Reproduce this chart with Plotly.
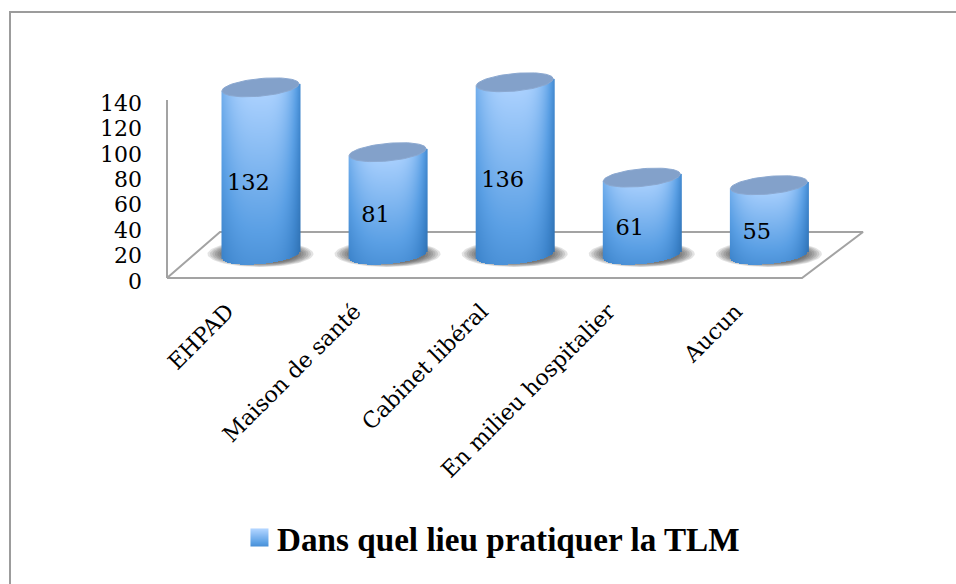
import numpy as np
import plotly.graph_objects as go

# values
categories = ["EHPAD", "Maison de santé", "Cabinet libéral", "En milieu hospitalier", "Aucun"]
counts = [132, 81, 136, 61, 55]
y_ticks = [0, 20, 40, 60, 80, 100, 120, 140]
legend_title = "Dans quel lieu pratiquer la TLM"

W, H = 956, 584
SERIF = "Liberation Serif"
TICK_SERIF = "DejaVu Serif"
GREY = "#a3a3a3"

# page scale: one category step and one count in pixels, and where (0, 0) sits
PX_X, PX_Y = 127.1, 1.271
X0, Y0 = 260.5, 278


def xd(px):
    return (px - X0) / PX_X


def yd(px):
    return (Y0 - px) / PX_Y


# 3D look: cylinders stand behind the front edge of the floor
BASE = 18
RX, RY, TILT = 38.5 / PX_X, 8.8 / PX_Y, 3.5 / PX_Y
SCALE = [[0, "#1d5a96"], [0.35, "#3f86cd"], [0.55, "#5a9fe4"], [1, "#aed3ff"]]

fig = go.Figure()


def ellipse(cx, cy, rx, ry, tilt):
    t = np.linspace(0, 2 * np.pi, 80)
    return cx + rx * np.cos(t), cy + ry * np.sin(t) + tilt * np.cos(t)


def add_poly(xs, ys, fill=None, line=None, width=2, top=False):
    # heatmaps always sit under scatter on one subplot, so the cylinders get their own overlay
    fig.add_trace(go.Scatter(
        x=xs, y=ys, mode="lines", hoverinfo="skip", showlegend=False,
        xaxis="x2" if top else "x", yaxis="y2" if top else "y",
        fill="toself" if fill else None, fillcolor=fill,
        line=dict(color=line or "rgba(0,0,0,0)", width=width if line else 0),
    ))


# floor and back wall line
add_poly([xd(167), xd(802), xd(863), xd(220), xd(167)],
         [0, 0, yd(232), yd(232), 0], line=GREY)
add_poly([xd(167), xd(167)], [0, 140], line=GREY)

for i, v in enumerate(counts):
    # soft shadow on the floor
    for k in np.linspace(1, 0.72, 7):
        sx, sy = ellipse(i, yd(254), 53 / PX_X * k, 13 / PX_Y * k, 0)
        add_poly(sx, sy, fill="rgba(40,40,40,0.13)")

    # body, shaded pixel by pixel
    xs = np.arange(-RX, RX + 1 / PX_X, 1 / PX_X)
    ys = np.arange(BASE - RY - TILT, BASE + v + TILT, 1 / PX_Y)
    u = (xs / RX)[None, :]
    yy = ys[:, None]
    low = BASE - RY * np.sqrt(np.clip(1 - u ** 2, 0, 1)) + TILT * u
    t = np.clip((yy - BASE + RY) / (v + RY), 0, 1)
    edge = 1 - np.where(u > 0, 0.58, 0.3) * np.abs(u) ** 3
    z = (0.45 + 0.55 * t) * edge
    z = np.where((yy < low) | (yy > BASE + v + TILT * u), np.nan, z)
    fig.add_trace(go.Heatmap(x=i + xs, y=ys, z=z, zmin=0, zmax=1, colorscale=SCALE,
                             showscale=False, hoverinfo="skip", xaxis="x2", yaxis="y2"))

    # lid
    tx, ty = ellipse(i, BASE + v, RX, RY, TILT)
    add_poly(tx, ty, fill="#83a1ca", line="#8ba8d0", width=1, top=True)

# value labels
fig.add_trace(go.Scatter(
    x=[i - 0.095 for i in range(len(counts))],
    y=[BASE + v / 2 - 10.3 for v in counts],
    text=[str(v) for v in counts], mode="text", hoverinfo="skip", showlegend=False,
    xaxis="x2", yaxis="y2",
    textfont=dict(family=TICK_SERIF, size=22.5, color="#000000"),
))

# legend swatch
sw_y = np.arange(yd(546), yd(529) + 1 / PX_Y, 1 / PX_Y)
sw_z = np.linspace(0.42, 1, len(sw_y))[:, None] * np.ones((1, 17))
fig.add_trace(go.Heatmap(
    x=np.linspace(xd(251), xd(268), 17), y=sw_y, z=sw_z, zmin=0, zmax=1,
    colorscale=SCALE, showscale=False, hoverinfo="skip",
))

# frame of the chart area, only top and left are in view
add_poly([xd(10), xd(10), xd(956)], [yd(584), yd(12), yd(12)], line="#9c9c9c")

fig.add_annotation(
    x=xd(274.5), y=yd(539), xanchor="left", yanchor="middle", showarrow=False,
    text="<b>%s</b>" % legend_title,
    font=dict(family=SERIF, size=33.2, color="#000000"),
)

fig.update_layout(
    width=W, height=H,
    margin=dict(l=0, r=0, t=0, b=0),
    paper_bgcolor="white", plot_bgcolor="white",
    showlegend=False,
    xaxis=dict(
        range=[xd(0), xd(W)], anchor="free", position=(H - Y0) / H,
        tickmode="array", tickvals=[i - 0.26 for i in range(len(categories))],
        ticktext=categories, tickangle=-45, ticks="", showgrid=False, zeroline=False,
        showline=False, ticklabelstandoff=15,
        tickfont=dict(family=TICK_SERIF, size=22.2, color="#000000"),
    ),
    yaxis=dict(
        range=[yd(H), yd(0)], anchor="free", position=167 / W,
        tickmode="array", tickvals=y_ticks, ticks="", showgrid=False, zeroline=False,
        showline=False, ticklabelstandoff=25, ticklabelshift=3,
        tickfont=dict(family=TICK_SERIF, size=22, color="#000000"),
    ),
    xaxis2=dict(range=[xd(0), xd(W)], overlaying="x", visible=False),
    yaxis2=dict(range=[yd(H), yd(0)], overlaying="y", visible=False),
)

fig.write_html("out.html", config=dict(displayModeBar=False),
               post_script="document.body.style.margin='0';")
